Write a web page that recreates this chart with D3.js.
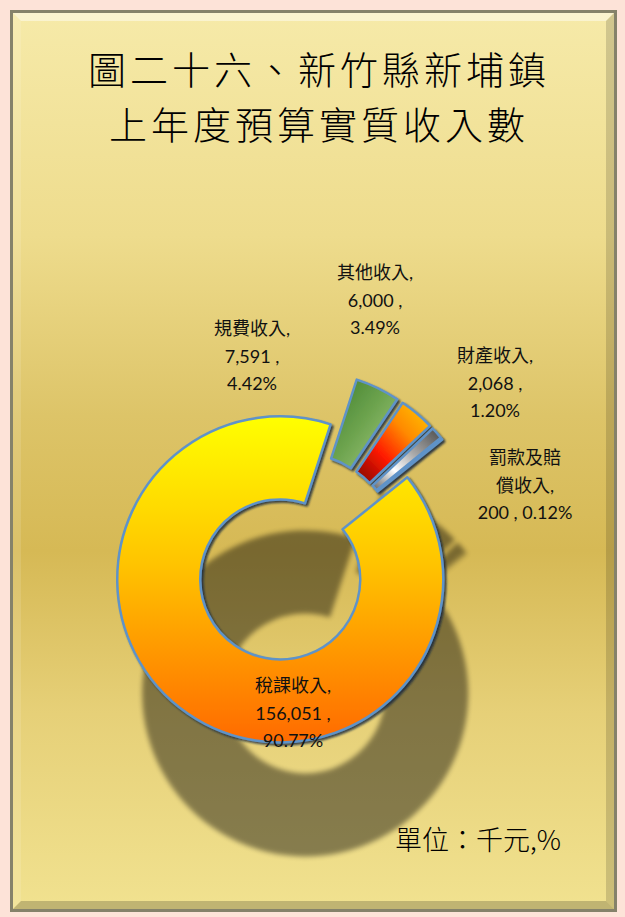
<!DOCTYPE html>
<html>
<head>
<meta charset="utf-8">
<script src="https://cdn.jsdelivr.net/npm/d3@7"></script>
<style>
  html, body { margin: 0; padding: 0; background: #fde3d8; }
  svg { display: block; }
</style>
</head>
<body>
<div id="viz"></div>
<script>
// data
const categories = ["稅課收入", "規費收入", "其他收入", "財產收入", "罰款及賠償收入"];
const values = [156051, 7591, 6000, 2068, 200];
const percents = ["90.77%", "4.42%", "3.49%", "1.20%", "0.12%"];
const titleLines = ["圖二十六、新竹縣新埔鎮", "上年度預算實質收入數"];
const unitLabel = "單位：千元,%";

const width = 625, height = 917;
const cx = 295, cy = 558;          // pie centre before explosion
const outerR = 163, innerR = 80;
const explode = 26;
const startDeg = 51.2;             // first slice angle
const shadowOffset = [25, 114];

// label placement (centre x, first line y)
const labelPos = [[293, 685], [252, 328], [375, 272], [495, 355], [525, 457]];
const lineH = 27.5;

const svg = d3.select("#viz")
  .append("svg")
    .attr("width", width)
    .attr("height", height);

const defs = svg.append("defs");

// background gold gradient
const bg = defs.append("linearGradient")
  .attr("id", "bg").attr("x1", 0).attr("y1", 0).attr("x2", 0).attr("y2", 1);
[[0, "#f6eaa9"], [0.25, "#eedc8d"], [0.45, "#ddc468"], [0.6, "#d6b955"], [0.78, "#e6d078"], [1, "#f1e290"]]
  .forEach(s => bg.append("stop").attr("offset", s[0]).attr("stop-color", s[1]));

function grad(id, x1, y1, x2, y2, stops) {
  const g = defs.append("linearGradient").attr("id", id)
    .attr("x1", x1).attr("y1", y1).attr("x2", x2).attr("y2", y2);
  stops.forEach(s => g.append("stop").attr("offset", s[0]).attr("stop-color", s[1]));
}
grad("g0", 0, 0, 0, 1, [[0, "#ffff00"], [0.45, "#ffc400"], [1, "#ff6a00"]]);
grad("g1", 0, 0, 1, 1, [[0, "#3f7f2c"], [0.5, "#6fa550"], [1, "#a9cc86"]]);
grad("g2", 1, 0, 0, 1, [[0, "#ffcc00"], [0.35, "#ff8a00"], [0.65, "#ff1a00"], [1, "#7a0000"]]);
grad("g3", 1, 0, 0, 1, [[0, "#4a4a4a"], [0.4, "#a8a8a8"], [0.68, "#ffffff"], [1, "#5e5e5e"]]);
grad("g4", 1, 0, 0, 1, [[0, "#3d6fb0"], [1, "#9cc0ea"]]);

const edge = defs.append("filter").attr("id", "edge")
  .attr("x", "-10%").attr("y", "-10%").attr("width", "120%").attr("height", "120%");
edge.append("feDropShadow").attr("dx", 2).attr("dy", 2).attr("stdDeviation", 1.2)
  .attr("flood-color", "#10203a").attr("flood-opacity", 0.8);

const blur = defs.append("filter").attr("id", "blur")
  .attr("x", "-20%").attr("y", "-20%").attr("width", "140%").attr("height", "140%");
blur.append("feGaussianBlur").attr("stdDeviation", 2.5);

// frame
svg.append("rect").attr("x", 10).attr("y", 10).attr("width", 607).attr("height", 902)
  .attr("fill", "url(#bg)");
const fx0 = 13, fy0 = 13, fx1 = 614, fy1 = 909, bv = 8;
const bevels = [
  [[fx0, fy0], [fx1, fy0], [fx1 - bv, fy0 + bv], [fx0 + bv, fy0 + bv], "#ffffff", 0.45],
  [[fx0, fy0], [fx0 + bv, fy0 + bv], [fx0 + bv, fy1 - bv], [fx0, fy1], "#ffffff", 0.12],
  [[fx1, fy0], [fx1, fy1], [fx1 - bv, fy1 - bv], [fx1 - bv, fy0 + bv], "#000000", 0.15],
  [[fx0, fy1], [fx0 + bv, fy1 - bv], [fx1 - bv, fy1 - bv], [fx1, fy1], "#000000", 0.2]
];
svg.selectAll("polygon.bevel").data(bevels).enter().append("polygon")
  .attr("class", "bevel")
  .attr("points", d => d.slice(0, 4).map(p => p.join(",")).join(" "))
  .attr("fill", d => d[4]).attr("fill-opacity", d => d[5]);
svg.append("rect").attr("x", 11.5).attr("y", 11.5).attr("width", 604).attr("height", 899)
  .attr("fill", "none").attr("stroke", "#85826a").attr("stroke-width", 3);

// title
svg.append("g").selectAll("text").data(titleLines).enter().append("text")
  .attr("x", 317 + 2)
  .attr("y", (d, i) => 67 + i * 55)
  .attr("text-anchor", "middle")
  .attr("dominant-baseline", "central")
  .attr("font-family", "'Noto Sans CJK TC', sans-serif")
  .attr("font-weight", 300)
  .attr("font-size", 38)
  .attr("letter-spacing", 4)
  .attr("fill", "#000")
  .text(d => d);

// pie
const pie = d3.pie().sort(null)
  .startAngle(startDeg * Math.PI / 180)
  .endAngle(startDeg * Math.PI / 180 + 2 * Math.PI);
const arcs = pie(values);
const arc = d3.arc().innerRadius(innerR).outerRadius(outerR);
const shift = d => {
  const a = (d.startAngle + d.endAngle) / 2;
  return [explode * Math.sin(a), -explode * Math.cos(a)];
};

// shadow
svg.append("g")
  .attr("transform", `translate(${cx + shadowOffset[0]},${cy + shadowOffset[1]})`)
  .attr("opacity", 0.43)
  .attr("filter", "url(#blur)")
  .selectAll("path").data(arcs).enter().append("path")
    .attr("transform", d => `translate(${shift(d)})`)
    .attr("d", arc)
    .attr("fill", "#000");

svg.append("g")
  .attr("transform", `translate(${cx},${cy})`)
  .selectAll("path").data(arcs).enter().append("path")
    .attr("transform", d => `translate(${shift(d)})`)
    .attr("d", arc)
    .attr("fill", (d, i) => `url(#g${i})`)
    .attr("stroke", "#5f93c8")
    .attr("stroke-width", 2.5)
    .attr("stroke-linejoin", "round")
    .attr("filter", "url(#edge)");

// data labels
const labelLines = categories.map((c, i) => {
  const name = c.length > 6 ? [c.slice(0, 4), c.slice(4) + ","] : [c + ","];
  return name.length > 1
    ? name.concat(values[i].toLocaleString("en-US") + " , " + percents[i])
    : name.concat(values[i].toLocaleString("en-US") + " ,", percents[i]);
});
const labels = svg.append("g")
  .selectAll("text").data(labelLines).enter().append("text")
  .attr("text-anchor", "middle")
  .attr("font-family", "Lato, 'Noto Sans CJK TC', sans-serif")
  .attr("font-size", 18)
  .attr("fill", "#111");
labels.selectAll("tspan").data((d, i) => d.map(t => ({ t, i }))).enter().append("tspan")
  .attr("x", d => labelPos[d.i][0])
  .attr("y", (d, j) => labelPos[d.i][1] + j * lineH)
  .attr("dominant-baseline", "central")
  .text(d => d.t);

// unit
svg.append("text")
  .attr("x", 478).attr("y", 838)
  .attr("text-anchor", "middle")
  .attr("dominant-baseline", "central")
  .attr("font-family", "'Noto Sans CJK TC', sans-serif")
  .attr("font-weight", 300)
  .attr("font-size", 27)
  .attr("fill", "#000")
  .text(unitLabel);
</script>
</body>
</html>
